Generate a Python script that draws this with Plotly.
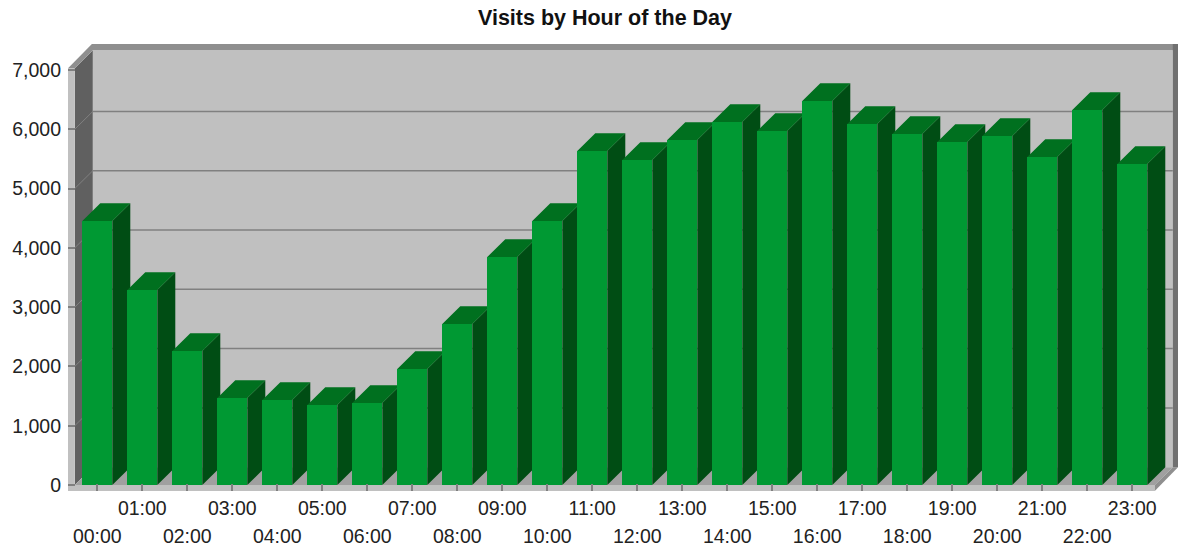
import plotly.graph_objects as go

hours = [f"{h:02d}:00" for h in range(24)]
visits = [4452, 3288, 2260, 1467, 1433, 1349, 1383, 1956, 2715, 3845, 4452, 5632,
          5480, 5818, 6121, 5970, 6476, 6088, 5919, 5784, 5885, 5531, 6324, 5413]
y_ticks = [0, 1000, 2000, 3000, 4000, 5000, 6000, 7000]
y_labels = ["0", "1,000", "2,000", "3,000", "4,000", "5,000", "6,000", "7,000"]
title = "Visits by Hour of the Day"

FRONT, TOP, SIDE = "#009933", "#00701f", "#004d14"
WALL, DARK, STRIP, FLOOR, BAND, GRID = "#c0c0c0", "#606060", "#c0c0c0", "#a0a0a0", "#8f8f8f", "#808080"
BAR_W, DX, DY = 0.667, 0.4, 300
X0, X1, Y_MIN, Y_TOP, WALL_TOP = -0.651, 24.016, -101, 7437, 7030
L, R = -0.5, 23.5
FONT = "Liberation Sans, Arial, sans-serif"

sx, sy, tx, ty = [], [], [], []
for i, v in enumerate(visits):
    l, r = i - BAR_W / 2, i + BAR_W / 2
    sx += [r, r + DX, r + DX, r, r, None]
    sy += [0, DY, v + DY, v, 0, None]
    tx += [l, l + DX, r + DX, r, l, None]
    ty += [v, v + DY, v + DY, v, v, None]

fig = go.Figure()
fig.add_trace(go.Scatter(x=sx, y=sy, mode="lines", fill="toself", fillcolor=SIDE, line=dict(width=0), hoverinfo="skip", showlegend=False))
fig.add_trace(go.Scatter(x=tx, y=ty, mode="lines", fill="toself", fillcolor=TOP, line=dict(width=0), hoverinfo="skip", showlegend=False))
fig.add_trace(go.Bar(x=list(range(24)), y=visits, width=BAR_W, marker=dict(color=FRONT, line=dict(width=0)),
                     xaxis="x2", yaxis="y2", showlegend=False, hovertemplate="%{y}<extra></extra>"))

def poly(pts, color):
    path = "M " + " L ".join(f"{x} {y}" for x, y in pts) + " Z"
    return dict(type="path", path=path, xref="x", yref="y", fillcolor=color, line=dict(width=0), layer="below")

shapes = [
    poly([(L + DX, DY), (R + DX, DY), (R + DX, WALL_TOP + DY), (L + DX, WALL_TOP + DY)], WALL),
    poly([(L, 0), (L + DX, DY), (L + DX, WALL_TOP + DY), (L, WALL_TOP)], DARK),
    poly([(L, 0), (R, 0), (R + DX, DY), (L + DX, DY)], FLOOR),
    poly([(X0, Y_MIN), (L, Y_MIN), (L, WALL_TOP), (X0, WALL_TOP)], STRIP),
    poly([(X0, Y_MIN), (R, Y_MIN), (R, 0), (X0, 0)], STRIP),
    poly([(R, Y_MIN), (X1, DY), (R + DX, DY), (R, 0)], BAND),
    poly([(X0, WALL_TOP), (L + DX - 0.02, Y_TOP), (X1, Y_TOP), (X1, WALL_TOP + DY), (L + DX, WALL_TOP + DY), (L, WALL_TOP)], BAND),
    poly([(R + DX, DY), (X1, DY), (X1, Y_TOP), (R + DX, Y_TOP)], "#707070"),
]
for t in y_ticks[1:-1]:
    shapes.append(dict(type="line", xref="x", yref="y", x0=L + DX, x1=R + DX, y0=t + DY, y1=t + DY,
                       line=dict(color=GRID, width=1.5), layer="below"))
    shapes.append(dict(type="line", xref="x", yref="y", x0=L, x1=L + DX, y0=t, y1=t + DY,
                       line=dict(color=GRID, width=1), layer="below"))

tick_font = dict(family=FONT, size=19.5, color="#222222")

def x_axis(vals, standoff, **kw):
    return dict(range=[X0, X1], tickmode="array", tickvals=vals, ticktext=[hours[i] for i in vals],
                ticks="inside", ticklen=7, tickwidth=2, tickcolor=GRID, tickangle=0,
                ticklabelstandoff=standoff, tickfont=tick_font, showgrid=False, zeroline=False,
                showline=False, fixedrange=True, **kw)

fig.update_layout(
    width=1178, height=550, autosize=False,
    margin=dict(l=68, r=0, t=44, b=59, pad=0),
    paper_bgcolor="white", plot_bgcolor="white",
    title=dict(text=f"<b>{title}</b>", x=605 / 1178, xanchor="center", y=1 - 17 / 550, yanchor="middle",
               font=dict(family=FONT, size=21.5, color="#111111")),
    xaxis=x_axis(list(range(1, 24, 2)), 3),
    xaxis2=x_axis(list(range(0, 24, 2)), 31, overlaying="x", side="bottom"),
    yaxis=dict(range=[Y_MIN, Y_TOP], tickmode="array", tickvals=y_ticks, ticktext=y_labels,
               ticks="inside", ticklen=7, tickwidth=2, tickcolor=GRID, tickfont=tick_font,
               ticklabelstandoff=6, showgrid=False, zeroline=False, showline=False, fixedrange=True),
    yaxis2=dict(range=[Y_MIN, Y_TOP], overlaying="y", visible=False, fixedrange=True),
    shapes=shapes,
    bargap=0,
)
fig.write_html("out.html", config={"displayModeBar": False}, post_script="document.body.style.margin='0';")
